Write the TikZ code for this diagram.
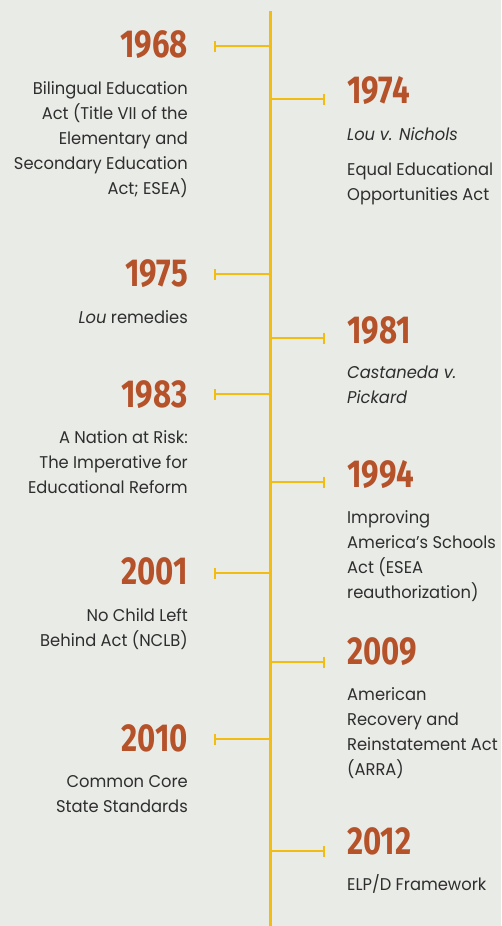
\documentclass[tikz,border=0pt]{standalone}
\usepackage{fontspec}
\setmainfont{Poppins}[FakeStretch=0.96]
\newfontfamily\yearfont{Fira Sans}[FakeStretch=0.8]
\usetikzlibrary{arrows.meta}
\definecolor{bg}{HTML}{E9EBE7}
\definecolor{tl}{HTML}{F2BC12}
\definecolor{yr}{HTML}{B5522A}
\definecolor{tx}{HTML}{2E2E2E}
\tikzset{
  spine/.style={draw=tl, line width=3pt},
  tick/.style={draw=tl, line width=2.2pt, -{Bar[width=11pt, line width=2pt]}},
  year/.style={inner sep=0pt, text=yr, font=\yearfont\bfseries\fontsize{39}{42}\selectfont},
  desc/.style={inner sep=0pt, text=tx, font=\fontsize{17}{25}\selectfont},
  lft/.style={anchor=base east, align=right},
  rgt/.style={anchor=base west, align=left},
}
\begin{document}
\begin{tikzpicture}[x=1pt, y=-1pt]
\fill[bg] (0,0) rectangle (501,926);
\useasboundingbox (0,0) rectangle (501,926);
\coordinate (top) at (270,11);
\coordinate (bot) at (270,926);
\draw[spine] (top) -- (bot);
% ticks
\foreach \n/\y/\x in {a/46/214, b/99/325, c/274/214, d/338/325, e/394/214, f/482/325, g/573/214, h/662/325, i/739/214, j/851/325}{
  \coordinate (s\n) at (270,\y);
  \coordinate (e\n) at (\x,\y);
  \draw[tick] (s\n) -- (e\n);
}
% left events (base anchor = baseline of last line)
\node[year, lft] (y68) at (188,57) {1968};
\node[desc, lft] (t68) at (188,194) {Bilingual Education\\Act (Title VII of the\\Elementary and\\Secondary Education\\Act; ESEA)};
\node[year, lft] (y75) at (188,286) {1975};
\node[desc, lft] (t75) at (188,323) {\itshape Lou\upshape{} remedies};
\node[year, lft] (y83) at (188,407) {1983};
\node[desc, lft] (t83) at (188,493) {A Nation at Risk:\\The Imperative for\\Educational Reform};
\node[year, lft] (y01) at (188,584) {2001};
\node[desc, lft] (t01) at (188,646) {No Child Left\\Behind Act (NCLB)};
\node[year, lft] (y10) at (188,751) {2010};
\node[desc, lft] (t10) at (188,812) {Common Core\\State Standards};
% right events
\node[year, rgt] (y74) at (347,103) {1974};
\node[desc, rgt] (t74a) at (347,140) {\itshape Lou v. Nichols};
\node[desc, rgt] (t74b) at (347,200) {Equal Educational\\Opportunities Act};
\node[year, rgt] (y81) at (347,343) {1981};
\node[desc, rgt] (t81) at (347,403) {\itshape Castaneda v.\\\itshape Pickard};
\node[year, rgt] (y94) at (347,487) {1994};
\node[desc, rgt] (t94) at (347,598) {Improving\\America’s Schools\\Act (ESEA\\reauthorization)};
\node[year, rgt] (y09) at (347,664) {2009};
\node[desc, rgt] (t09) at (347,775) {American\\Recovery and\\Reinstatement Act\\(ARRA)};
\node[year, rgt] (y12) at (347,854) {2012};
\node[desc, rgt] (t12) at (347,890) {ELP/D Framework};
\end{tikzpicture}
\end{document}
